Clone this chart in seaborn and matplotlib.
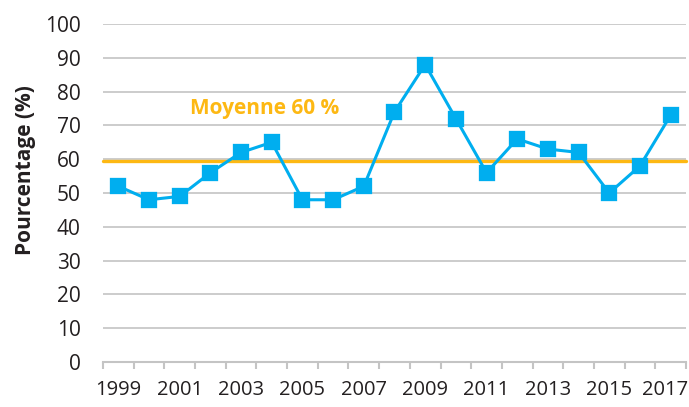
"""
Pourcentage annuel 1999-2017 avec la moyenne en ligne horizontale.
"""

import pandas as pd
import matplotlib.pyplot as plt
import matplotlib.transforms as mtransforms
import seaborn as sns

# Données
annees = [str(a) for a in range(1999, 2018)]
pourcentages = [52, 48, 49, 56, 62, 65, 48, 48, 52, 74, 88, 72, 56, 66, 63, 62, 50, 58, 73]
moyenne = 59.5
moyenne_label = "Moyenne 60 %"

BLEU = "#00AEEF"
ORANGE = "#FDB813"
GRIS = "#C4C4C4"
TEXTE = "#231F20"

df = pd.DataFrame({"Année": annees, "Pourcentage": pourcentages})

sns.set_theme(style="white")
plt.rcParams["font.family"] = ["Open Sans", "DejaVu Sans"]

fig = plt.figure(figsize=(6.89, 4.07), dpi=100)
ax = fig.add_axes([0.1495, 0.1106, 0.8461, 0.8304])

# Grille horizontale
ax.set_ylim(0, 100)
ax.set_yticks(range(0, 101, 10))
ax.yaxis.grid(True, color=GRIS, linewidth=1.2)
ax.set_axisbelow(True)

# Ligne de la moyenne
ax.axhline(moyenne, color=ORANGE, linewidth=2.4, zorder=2)

sns.pointplot(
    data=df, x="Année", y="Pourcentage", ax=ax,
    color=BLEU, markers="s", linewidth=2.2, markersize=10,
    native_scale=False, errorbar=None,
)
for coll in ax.collections + ax.lines:
    coll.set_clip_on(False)
for line in ax.lines[1:]:
    line.set_zorder(3)

ax.text(2.35, 75, moyenne_label, color=ORANGE, fontsize=15, fontweight="bold",
        va="center", ha="left")

# Axe des x : traits entre catégories, libellés une année sur deux
n = len(annees)
ax.set_xlim(-0.5, n - 0.5)
ax.set_xticks([i - 0.5 for i in range(n + 1)])
ax.set_xticklabels([])
ax.set_xticks(range(0, n, 2), minor=True)
ax.set_xticklabels(annees[::2], minor=True)
ax.tick_params(axis="x", which="major", length=5, width=1.5, color=GRIS, bottom=True)
ax.tick_params(axis="x", which="minor", length=0, pad=13, labelsize=14.5, labelcolor=TEXTE)
ax.tick_params(axis="y", length=0, pad=16, labelsize=15, labelcolor=TEXTE)

# le dernier libellé touche le bord droit : petit décalage vers la gauche
dernier = ax.xaxis.get_minor_ticks()[-1].label1
dernier.set_transform(dernier.get_transform()
                      + mtransforms.ScaledTranslation(-4 / 72, 0, fig.dpi_scale_trans))

for side in ["top", "right", "left"]:
    ax.spines[side].set_visible(False)
ax.spines["bottom"].set_color(GRIS)
ax.spines["bottom"].set_linewidth(1.5)

ax.set_xlabel("")
ax.set_ylabel("Pourcentage (%)", fontsize=15, fontweight="bold", color=TEXTE)
ax.yaxis.set_label_coords(-0.115, 0.568)

fig.savefig("out.png", dpi=100)
